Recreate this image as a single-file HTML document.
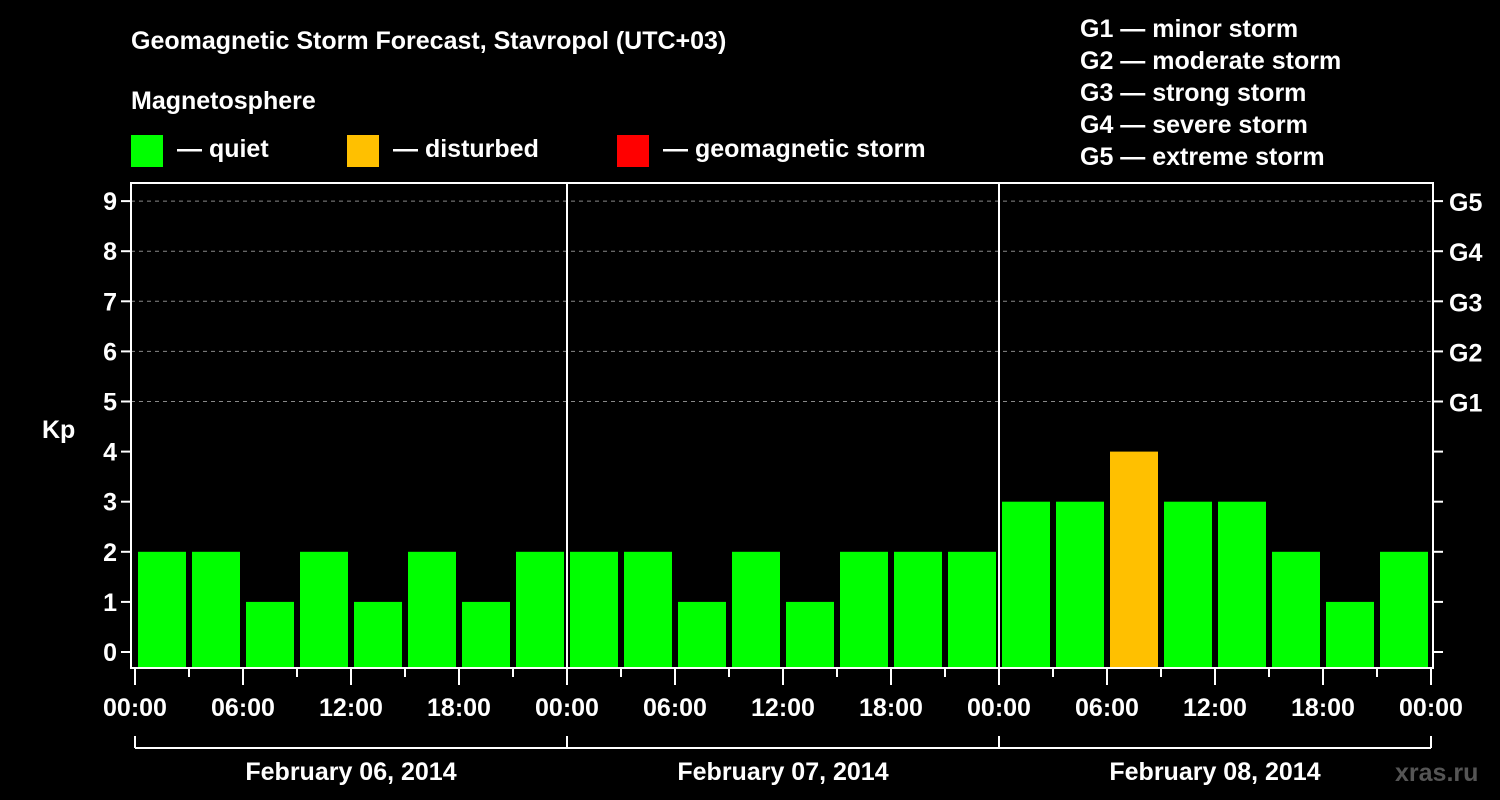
<!DOCTYPE html>
<html><head><meta charset="utf-8"><style>
body{margin:0;background:#000;}
svg{display:block;font-family:"Liberation Sans",Arial,sans-serif;font-weight:bold;}
</style></head><body>
<svg id="chart" width="1500" height="800" viewBox="0 0 1500 800">
<rect width="1500" height="800" fill="#000"/>
<text x="131" y="49" fill="#fff" font-size="25">Geomagnetic Storm Forecast, Stavropol (UTC+03)</text>
<text x="131" y="109" fill="#fff" font-size="25">Magnetosphere</text>
<g><rect x="131" y="135" width="32" height="32" fill="#00ff00"/><text x="177" y="157" fill="#fff" font-size="25">— quiet</text></g>
<g><rect x="347" y="135" width="32" height="32" fill="#ffc000"/><text x="393" y="157" fill="#fff" font-size="25">— disturbed</text></g>
<g><rect x="617" y="135" width="32" height="32" fill="#ff0000"/><text x="663" y="157" fill="#fff" font-size="25">— geomagnetic storm</text></g>
<g fill="#fff" font-size="25">
<text x="1080" y="37">G1 — minor storm</text>
<text x="1080" y="69">G2 — moderate storm</text>
<text x="1080" y="101">G3 — strong storm</text>
<text x="1080" y="133">G4 — severe storm</text>
<text x="1080" y="165">G5 — extreme storm</text>
</g>
<text x="42" y="438" fill="#fff" font-size="25">Kp</text>
<text x="1395" y="781" fill="#555" font-size="25">xras.ru</text>
<g id="grid"></g><g id="bars"></g><g id="axes"></g>
</svg>
<script>
const days=["February 06, 2014","February 07, 2014","February 08, 2014"];
const kpValues=[2,2,1,2,1,2,1,2, 2,2,1,2,1,2,2,2, 3,3,4,3,3,2,1,2];
const yTicks=[0,1,2,3,4,5,6,7,8,9];
const gLabels=["G1","G2","G3","G4","G5"];
const gLevels=[5,6,7,8,9];
const timeLabels=["00:00","06:00","12:00","18:00"];
const NS="http://www.w3.org/2000/svg";
const L=131,R=1433,T=183,B=668,X0=135,DAYW=432;
function y(v){return 652-v*50.1;}
function x(h){return X0+h*DAYW/24;}
function el(tag,attrs,parent,text){const e=document.createElementNS(NS,tag);for(const k in attrs)e.setAttribute(k,attrs[k]);if(text!==undefined)e.textContent=text;parent.appendChild(e);return e;}
const grid=document.getElementById('grid'),bars=document.getElementById('bars'),axes=document.getElementById('axes');
gLevels.forEach((lv,i)=>{
 const ln=el('line',{x1:L,x2:R,y1:y(lv),y2:y(lv),stroke:'#888','stroke-dasharray':'4,4','stroke-width':1},grid);
 
 
 const t=el('text',{x:1449,y:y(lv)+10,fill:'#fff','font-size':25},axes,gLabels[i]);
 
 
});
kpValues.forEach((v,i)=>{
 const c=v>=5?'#ff0000':(v>=4?'#ffc000':'#00ff00');
 const r=el('rect',{x:x(i*3)+3,y:y(v),width:48,height:B-y(v),fill:c},bars);
 
 
});
const fr=el('rect',{x:L,y:T,width:R-L,height:B-T,fill:'none',stroke:'#fff','stroke-width':2},axes);


for(let d=1;d<3;d++){const ln=el('line',{x1:x(d*24),x2:x(d*24),y1:T,y2:B,stroke:'#fff','stroke-width':2},axes);
 
 }
yTicks.forEach(v=>{
 el('line',{x1:L-10,x2:L,y1:y(v),y2:y(v),stroke:'#fff','stroke-width':2},axes);
 el('line',{x1:R,x2:R+10,y1:y(v),y2:y(v),stroke:'#fff','stroke-width':2},axes);
 const t=el('text',{x:L-14,y:y(v)+9,fill:'#fff','font-size':25,'text-anchor':'end'},axes,String(v));
 
 
});
for(let h=0;h<=72;h+=3){
 const major=h%6===0;
 el('line',{x1:x(h),x2:x(h),y1:B,y2:major?B+17:B+9,stroke:'#fff','stroke-width':2},axes);
 if(major){const t=el('text',{x:x(h),y:716,fill:'#fff','font-size':25,'text-anchor':'middle'},axes,timeLabels[(h/6)%4]);
  
  }
}
el('line',{x1:x(0),x2:x(72),y1:748,y2:748,stroke:'#fff','stroke-width':2},axes);
for(let d=0;d<=3;d++)el('line',{x1:x(d*24),x2:x(d*24),y1:736,y2:748,stroke:'#fff','stroke-width':2},axes);
days.forEach((d,i)=>{const t=el('text',{x:x(i*24+12),y:780,fill:'#fff','font-size':25,'text-anchor':'middle'},axes,d);
 
 });
</script>
</body></html>
